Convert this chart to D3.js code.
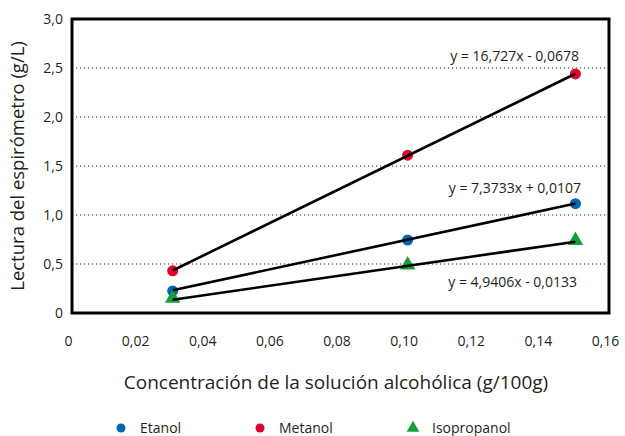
<!DOCTYPE html>
<html>
<head>
<meta charset="utf-8">
<script src="https://cdn.jsdelivr.net/npm/d3@7"></script>
<style>
  html, body { margin: 0; padding: 0; background: #fff; }
  svg { display: block; font-family: "Open Sans", "Noto Sans", sans-serif; }
</style>
</head>
<body>
<svg id="chart" width="625" height="436"></svg>
<script>
// Alcohol concentration (g/100g) and spirometer reading (g/L)
const concentrations = [0.03, 0.10, 0.15];
const etanol = [0.225, 0.745, 1.115];
const metanol = [0.43, 1.61, 2.44];
const isopropanol = [0.14, 0.48, 0.73];

// Linear fits (slope, intercept) as printed beside each series
const fitSlopes = [7.3733, 16.727, 4.9406];
const fitIntercepts = [0.0107, -0.0678, -0.0133];
const fitLabels = ["y = 7,3733x + 0,0107", "y = 16,727x - 0,0678", "y = 4,9406x - 0,0133"];

const seriesNames = ["Etanol", "Metanol", "Isopropanol"];
const seriesColors = ["#0066b3", "#e3002f", "#1a9c3c"];
const seriesShapes = ["circle", "circle", "triangle"];

const xTicks = [0, 0.02, 0.04, 0.06, 0.08, 0.10, 0.12, 0.14, 0.16];
const xTickLabels = ["0", "0,02", "0,04", "0,06", "0,08", "0,10", "0,12", "0,14", "0,16"];
const yTicks = [0, 0.5, 1.0, 1.5, 2.0, 2.5, 3.0];
const yTickLabels = ["0", "0,5", "1,0", "1,5", "2,0", "2,5", "3,0"];

const seriesValues = [etanol, metanol, isopropanol];

const svg = d3.select("#chart");
const plot = { left: 72, right: 609, top: 19, bottom: 313 };

const x = d3.scaleLinear().domain([0, 0.16]).range([plot.left, plot.right]);
const y = d3.scaleLinear().domain([0, 3.0]).range([plot.bottom, plot.top]);

// Dotted horizontal gridlines
svg.append("g")
  .selectAll("line")
  .data(yTicks.filter(v => v > 0 && v < 3))
  .join("line")
  .attr("x1", plot.left).attr("x2", plot.right)
  .attr("y1", d => y(d)).attr("y2", d => y(d))
  .attr("stroke", "#222").attr("stroke-width", 1)
  .attr("stroke-dasharray", "1.2,2.8");

// Y axis tick labels
const yAxis = d3.axisLeft(y).tickValues(yTicks)
  .tickFormat((d, i) => yTickLabels[i]).tickSize(0).tickPadding(9);
svg.append("g").attr("transform", `translate(${plot.left},0)`).call(yAxis)
  .call(g => g.select(".domain").remove())
  .call(g => g.selectAll("text").attr("font-size", 14).attr("fill", "#231f20")
    .attr("font-family", "'Open Sans', sans-serif"));

// X axis tick labels
const xAxis = d3.axisBottom(x).tickValues(xTicks)
  .tickFormat((d, i) => xTickLabels[i]).tickSize(0).tickPadding(23);
svg.append("g").attr("transform", `translate(-4,${plot.bottom})`).call(xAxis)
  .call(g => g.select(".domain").remove())
  .call(g => g.selectAll("text").attr("font-size", 14).attr("fill", "#231f20")
    .attr("font-family", "'Open Sans', sans-serif"));

// Plot frame
svg.append("rect")
  .attr("x", plot.left).attr("y", plot.top)
  .attr("width", plot.right - plot.left).attr("height", plot.bottom - plot.top)
  .attr("fill", "none").attr("stroke", "#000").attr("stroke-width", 3);

// Markers
const tri = d3.symbol().type(d3.symbolTriangle).size(105);
seriesValues.forEach((vals, s) => {
  const g = svg.append("g");
  const pts = vals.map((v, i) => [concentrations[i], v]);
  if (seriesShapes[s] === "circle") {
    g.selectAll("circle").data(pts).join("circle")
      .attr("cx", d => x(d[0])).attr("cy", d => y(d[1])).attr("r", 5.5)
      .attr("fill", seriesColors[s]);
  } else {
    g.selectAll("path").data(pts).join("path")
      .attr("d", tri)
      .attr("transform", d => `translate(${x(d[0])},${y(d[1]) - 1})`)
      .attr("fill", seriesColors[s]);
  }
});

// Trend lines across the measured range, drawn over the markers
const xMin = d3.min(concentrations), xMax = d3.max(concentrations);
svg.append("g")
  .selectAll("line")
  .data(seriesNames.map((n, i) => i))
  .join("line")
  .attr("x1", x(xMin)).attr("x2", x(xMax))
  .attr("y1", i => y(fitSlopes[i] * xMin + fitIntercepts[i]))
  .attr("y2", i => y(fitSlopes[i] * xMax + fitIntercepts[i]))
  .attr("stroke", "#000").attr("stroke-width", 2.6);

// Equation labels
const eqPos = [[581, 193], [579, 61], [577, 287]];
svg.append("g")
  .selectAll("text")
  .data(fitLabels)
  .join("text")
  .attr("x", (d, i) => eqPos[i][0]).attr("y", (d, i) => eqPos[i][1])
  .attr("text-anchor", "end")
  .attr("font-size", 14).attr("fill", "#231f20")
  .text(d => d);

// Axis titles
svg.append("text")
  .attr("x", 336).attr("y", 389)
  .attr("text-anchor", "middle").attr("font-size", 19).attr("fill", "#231f20")
  .text("Concentración de la solución alcohólica (g/100g)");

svg.append("text")
  .attr("transform", "translate(24,166) rotate(-90)")
  .attr("text-anchor", "middle").attr("font-size", 18.5).attr("fill", "#231f20")
  .text("Lectura del espirómetro (g/L)");

// Legend
const legendX = [121, 260, 413];
const legend = svg.append("g");
seriesNames.forEach((name, i) => {
  if (seriesShapes[i] === "circle") {
    legend.append("circle").attr("cx", legendX[i]).attr("cy", 428).attr("r", 4.5)
      .attr("fill", seriesColors[i]);
  } else {
    legend.append("path").attr("d", d3.symbol().type(d3.symbolTriangle).size(70))
      .attr("transform", `translate(${legendX[i]},428)`).attr("fill", seriesColors[i]);
  }
  legend.append("text").attr("x", legendX[i] + 19).attr("y", 433)
    .attr("font-size", 14).attr("fill", "#231f20").text(name);
});
</script>
</body>
</html>
